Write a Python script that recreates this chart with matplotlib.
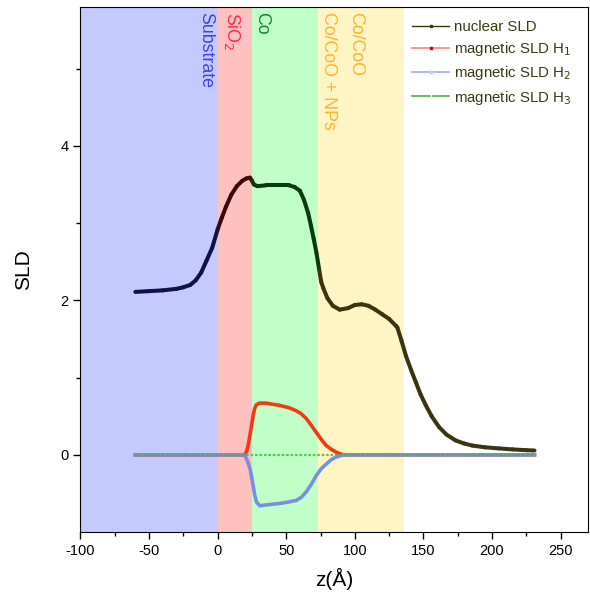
import numpy as np
import matplotlib.pyplot as plt
from matplotlib.collections import LineCollection
from matplotlib.lines import Line2D

plt.rcParams['font.family'] = ['Liberation Sans', 'DejaVu Sans']
plt.rcParams['axes.unicode_minus'] = False

# --- DATI ---
# strati (limiti in z, Å)
layer_names = ['Substrate', 'SiO$_2$', 'Co', 'Co/CoO']
layer_edges = [-100, 0, 25, 73.5, 135.5]
layer_colors = ['#c4caff', '#ffc0c0', '#c0ffc8', '#fff4c4']
curve_colors = ['#10104a', '#3a0a0a', '#0a3a12', '#3a3410', '#3a3410']

# profilo SLD nucleare
z_nuc = [-60, -50, -40, -30, -25, -20, -16, -12, -8, -4, 0, 3, 6, 10, 14, 18, 21, 23.5,
         25, 26.5, 29, 35, 45, 52, 56, 60, 63, 66, 68, 70, 72, 74, 75.5, 77, 80, 84, 89,
         95, 100, 105, 110, 115, 120, 125, 130, 131, 134, 137.3, 141, 144.5, 148, 151.8,
         156, 161.4, 167, 173.6, 180, 185.6, 195, 205, 215, 225, 231]
sld_nuc = [2.11, 2.12, 2.13, 2.15, 2.17, 2.20, 2.26, 2.36, 2.52, 2.68, 2.92, 3.07, 3.21,
           3.37, 3.48, 3.55, 3.58, 3.59, 3.55, 3.50, 3.48, 3.49, 3.49, 3.49, 3.47, 3.42,
           3.30, 3.13, 2.97, 2.80, 2.62, 2.40, 2.24, 2.16, 2.03, 1.93, 1.88, 1.90, 1.94,
           1.95, 1.93, 1.88, 1.82, 1.76, 1.67, 1.65, 1.48, 1.28, 1.10, 0.94, 0.78, 0.64,
           0.50, 0.36, 0.26, 0.185, 0.145, 0.12, 0.097, 0.083, 0.07, 0.06, 0.056]

# profili SLD magnetici
z_mag = [-60, 0, 19.5, 21, 22.2, 23.9, 25.9, 27, 28.3, 30.7, 35, 45.2, 52, 57.4, 61,
         64.6, 68, 71.9, 75.5, 79.2, 83, 86.4, 89, 92, 100, 150, 231]
sld_h1 = [0, 0, 0, 0.04, 0.12, 0.29, 0.51, 0.60, 0.65, 0.67, 0.67, 0.64, 0.61, 0.57,
          0.53, 0.47, 0.39, 0.29, 0.20, 0.12, 0.07, 0.035, 0.015, 0, 0, 0, 0]
sld_h2 = [0, 0, 0, -0.05, -0.10, -0.20, -0.40, -0.52, -0.61, -0.66, -0.65, -0.63, -0.61,
          -0.59, -0.55, -0.48, -0.39, -0.27, -0.18, -0.12, -0.06, -0.03, -0.015, 0, 0, 0, 0]
sld_h3 = [0] * len(z_mag)

# etichette verticali degli strati
label_texts = ['Substrate', 'SiO$_2$', 'Co', 'Co/CoO + NPs', 'Co/CoO']
label_z = [-9, 10.5, 32, 81, 100.5]
label_colors = ['#4040f0', '#ff2848', '#108a20', '#ffb428', '#ffb428']

# --- PLOT ---
fig = plt.figure(figsize=(5.9, 6.0), dpi=100)
ax = fig.add_axes([0.1364, 0.1133, 0.8602, 0.875])

for i in range(len(layer_colors)):
    ax.axvspan(layer_edges[i], layer_edges[i + 1], color=layer_colors[i], lw=0, zorder=0)

for t, zx, c in zip(label_texts, label_z, label_colors):
    ax.text(zx, 0.99, t, rotation=270, ha='center', va='top', color=c, fontsize=12.8,
            transform=ax.get_xaxis_transform())

# curve magnetiche (H1 sotto, poi H2, H3 sopra)
ax.plot(z_mag, sld_h1, color='#f03a14', lw=2.6, zorder=2)
ax.plot(z_mag, sld_h2, color='#7a8ee0', lw=2.6, zorder=3)
ax.plot(z_mag, sld_h3, color='#48b048', lw=1.6, ls=(0, (1.2, 0.8)), alpha=0.8, zorder=4)

# curva nucleare colorata per strato
pts = np.column_stack([z_nuc, sld_nuc])
segs = np.stack([pts[:-1], pts[1:]], axis=1)
mid = 0.5 * (pts[:-1, 0] + pts[1:, 0])
idx = np.searchsorted(layer_edges[1:], mid)
lc = LineCollection(segs, colors=[curve_colors[k] for k in idx], linewidths=2.9,
                    capstyle='round', joinstyle='round', zorder=5)
ax.add_collection(lc)

ax.set_xlim(-100, 270)
ax.set_ylim(-1, 5.8)
ax.set_xticks(np.arange(-100, 251, 50))
ax.set_xticks(np.arange(-75, 270, 50), minor=True)
ax.set_yticks([0, 2, 4])
ax.set_yticks([1, 3, 5], minor=True)
ax.tick_params(which='major', direction='out', length=5, width=1, labelsize=10.5)
ax.tick_params(which='minor', direction='out', length=3, width=1)
ax.set_xlabel('z(Å)', fontsize=15, labelpad=7)
ax.set_ylabel('SLD', fontsize=15, labelpad=20)

handles = [
    Line2D([], [], color='#3a3410', lw=1, marker='s', ms=2),
    Line2D([], [], color='#ff8080', lw=1.2, marker='s', ms=2, mfc='#e00000', mec='#e00000'),
    Line2D([], [], color='#a0a8ff', lw=1.2, marker='o', ms=2, mfc='#d0d0d0', mec='#d0d0d0'),
    Line2D([], [], color='#50b050', lw=1.2, marker='|', ms=3, mec='white'),
]
labels = ['nuclear SLD', 'magnetic SLD H$_1$', 'magnetic SLD H$_2$', 'magnetic SLD H$_3$']
leg = ax.legend(handles, labels, loc='upper left', bbox_to_anchor=(0.638, 0.99),
                frameon=False, fontsize=10.8, borderpad=0, handlelength=2.5,
                handletextpad=0.3, labelspacing=0.42)
for t in leg.get_texts():
    t.set_color('#3c3a14')

fig.savefig('out.png', dpi=100)
